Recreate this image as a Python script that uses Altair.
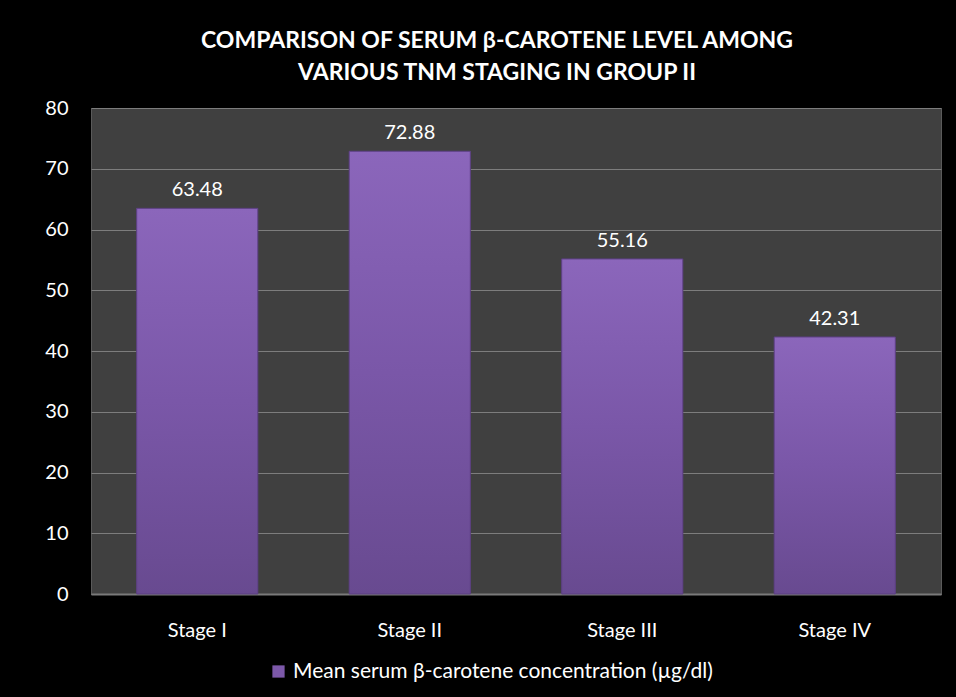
import altair as alt
import pandas as pd

# Mean serum beta-carotene by TNM stage (Group II)
stages = ["Stage I", "Stage II", "Stage III", "Stage IV"]
means = [63.48, 72.88, 55.16, 42.31]
series_name = "Mean serum β-carotene concentration (µg/dl)"
y_ticks = [0, 10, 20, 30, 40, 50, 60, 70, 80]

df = pd.DataFrame({"stage": stages, "mean": means, "series": [series_name] * len(stages)})

FONT = "Lato"
bar_gradient = alt.LinearGradient(
    gradient="linear",
    x1=0, x2=0, y1=0, y2=1,
    stops=[
        alt.GradientStop(color="#8b66bb", offset=0),
        alt.GradientStop(color="#7a57a8", offset=0.5),
        alt.GradientStop(color="#684a90", offset=1),
    ],
)

x_enc = alt.X(
    "stage:N",
    sort=stages,
    scale=alt.Scale(paddingInner=0.43, paddingOuter=0.215),
    axis=alt.Axis(
        title=None, labelAngle=0, ticks=False, domain=True, domainColor="#7a7a7a",
        domainWidth=2, labelColor="white", labelFont=FONT, labelFontSize=20,
        labelPadding=26, grid=False,
    ),
)
y_enc = alt.Y(
    "mean:Q",
    scale=alt.Scale(domain=[0, 80], nice=False),
    axis=alt.Axis(
        title=None, values=y_ticks, ticks=False, domain=False, grid=True,
        gridColor="#7d7d7d", gridWidth=1, labelColor="white", labelFont=FONT,
        labelFontSize=20, labelPadding=23,
    ),
)

# Underlying bars carry the legend entry
legend_bars = alt.Chart(df).mark_bar().encode(
    x=x_enc,
    y=y_enc,
    color=alt.Color(
        "series:N",
        scale=alt.Scale(range=["#7c58a9"]),
        legend=alt.Legend(
            title=None, orient="none", legendX=177, legendY=553,
            symbolType="square", symbolSize=150, symbolStrokeWidth=0,
            labelColor="white", labelFont=FONT, labelFontSize=21, labelLimit=600,
            labelOffset=4,
        ),
    ),
)

gradient_bars = alt.Chart(df).mark_bar(
    fill=bar_gradient, stroke="#5b3f80", strokeWidth=1
).encode(x=x_enc, y=y_enc)

value_labels = alt.Chart(df).mark_text(
    dy=-18, color="white", font=FONT, fontSize=20
).encode(x=x_enc, y=y_enc, text=alt.Text("mean:Q", format=".2f"))

chart = (
    alt.layer(legend_bars, gradient_bars, value_labels)
    .properties(
        width=850,
        height=486,
        background="black",
        padding={"left": 91, "top": 108, "right": 15, "bottom": 103},
        autosize=alt.AutoSizeParams(type="none"),
        title=alt.TitleParams(
            text=["COMPARISON OF SERUM β-CAROTENE LEVEL AMONG", "VARIOUS TNM STAGING IN GROUP II"],
            color="white", font=FONT, fontSize=23, fontWeight="bold",
            anchor="middle", lineHeight=32, offset=13, dx=-19,
        ),
    )
    .configure_view(fill="#404040", stroke="#5a5a5a")
)

chart.save("out.html", embed_options={"renderer": "svg", "actions": False})
